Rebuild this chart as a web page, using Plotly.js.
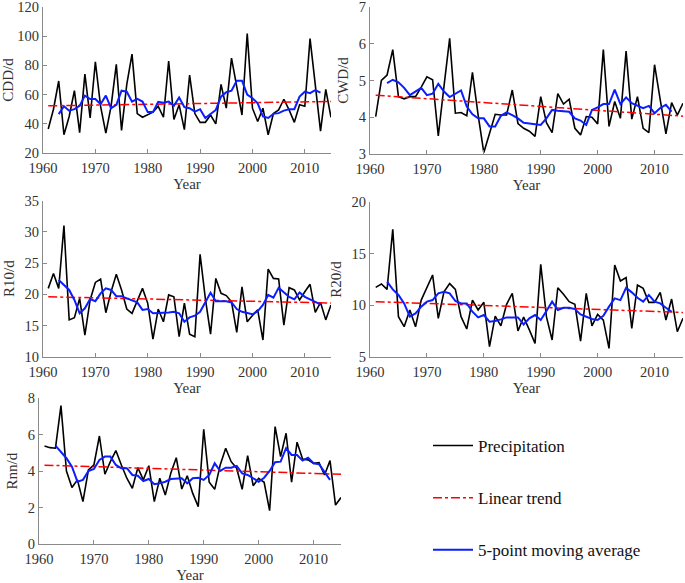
<!DOCTYPE html>
<html>
<head>
<meta charset="utf-8">
<script src="https://cdn.plot.ly/plotly-3.0.1.min.js"></script>
<style>html,body{margin:0;padding:0;background:#fff;}#chart{width:685px;height:583px;}</style>
</head>
<body>
<div id="chart"></div>
<script>
// Years of the annual series (1961-2015)
const years = [1961,1962,1963,1964,1965,1966,1967,1968,1969,1970,
  1971,1972,1973,1974,1975,1976,1977,1978,1979,1980,
  1981,1982,1983,1984,1985,1986,1987,1988,1989,1990,
  1991,1992,1993,1994,1995,1996,1997,1998,1999,2000,
  2001,2002,2003,2004,2005,2006,2007,2008,2009,2010,
  2011,2012,2013,2014,2015];
// Years of the centred 5-point moving average (1963-2013)
const maYears = [1963,1964,1965,1966,1967,1968,1969,1970,1971,1972,
  1973,1974,1975,1976,1977,1978,1979,1980,1981,1982,
  1983,1984,1985,1986,1987,1988,1989,1990,1991,1992,
  1993,1994,1995,1996,1997,1998,1999,2000,2001,2002,
  2003,2004,2005,2006,2007,2008,2009,2010,2011,2012,2013];
const trendYears = [1961, 2015];

// CDD/d
const cdd = [36.4,50,69.3,32.5,45,62.7,34,74,44,82.5,
  52,33.6,52,80.7,35.5,67,87.7,47,44.5,46,
  48,52,44.5,83,43,53,36,73.4,47,41,
  41,46,40,67,50.7,85,65.5,46,101.8,50.7,
  41.6,50.7,32.5,47,49.5,56.8,49.5,41,53,52,
  98.4,67.7,35,63.6,44.5];
const cddMA = [46.6,52,49,50,52.3,59.3,57,57,53.4,59.3,
  50.7,53,62.7,62,55.2,57,55.2,48,48,55,
  54.5,55.2,52.3,58,51.4,50.7,48.4,50,44,47,
  49.5,58.6,61.6,62.7,69.5,69.5,60,57.5,54,45,
  44,46.8,47.3,49,50,50,58.6,62,61,63,61.4];
const cddTrend = [52.3, 55.3];

// CWD/d
const cwd = [4.02,5.0,5.15,5.84,4.56,4.5,4.56,4.56,4.82,5.1,
  5.02,3.49,4.84,6.15,4.11,4.13,4.04,5.22,4.06,3.04,
  3.56,4.08,4.06,4.06,4.74,3.83,3.7,3.62,3.48,4.56,
  3.85,3.58,4.64,4.36,4.49,3.7,3.52,4.02,4.0,3.82,
  5.84,3.75,4.43,3.97,5.8,3.95,4.56,3.7,3.58,5.43,
  4.47,3.55,4.4,4.06,4.38];
const cwdMA = [4.93,5.02,4.95,4.8,4.6,4.7,4.8,4.6,4.64,4.91,
  4.7,4.55,4.64,4.73,4.29,4.08,3.97,3.97,3.75,3.75,
  4.04,4.13,4.06,3.97,3.85,3.83,3.81,3.79,3.97,4.2,
  4.18,4.17,4.15,3.97,3.91,3.79,4.2,4.27,4.36,4.36,
  4.75,4.36,4.54,4.38,4.31,4.25,4.31,4.11,4.25,4.34,4.15];
const cwdTrend = [4.6, 4.03];

// R10/d
const r10 = [20.95,23.35,20.95,31,15.9,16.25,19.35,13.47,19.1,21.9,
  22.45,17.05,20.4,23.2,20.7,17.64,16.95,19.1,20.95,18.55,
  12.8,17.64,15.6,19.9,19.6,13.2,18.6,13.6,13.2,26.4,
  19.35,13.6,22.55,20.15,19.8,18.8,13.9,21.2,15.6,16.6,
  17.5,12.67,24.05,22.55,22.45,15.07,21.05,20.7,19.1,20.4,
  21.6,17.1,18.7,15.9,18.3];
const r10MA = [22.3,21.5,20.7,19.1,16.95,17.75,19.25,18.9,20.15,20.95,
  20.7,19.7,19.7,19.35,18.97,18.7,17.5,17.64,16.95,16.95,
  17.05,17.1,17.2,16.95,15.6,16.3,16.57,17.2,18.8,20.25,
  18.9,18.9,18.9,18.7,17.64,17.2,16.95,16.8,17.3,18.3,
  19.9,19.45,21.05,20.3,19.6,19.2,20.3,19.6,19.2,18.7,18.4];
const r10Trend = [19.6, 18.6];

// R20/d
const r20 = [11.74,12.06,11.54,17.37,8.89,7.92,9.54,7.9,10.5,11.8,
  12.94,8.73,11.3,12.1,11.54,8.89,7.69,10.5,9.54,10.28,
  5.97,8.95,8.0,10.09,11.15,7.5,8.85,7.6,6.3,13.97,
  8.89,6.62,11.7,11.06,10.35,10.09,6.52,11.15,8.0,9.11,
  8.56,5.81,13.91,12.35,12.68,7.75,11.96,11.64,10.28,10.28,
  11.25,8.56,10.6,7.43,8.73];
const r20MA = [12.29,11.54,11.0,10.18,8.89,9.21,9.86,10.35,10.5,11.15,
  11.3,11.15,10.41,10.18,10.18,9.37,8.82,9.05,8.4,8.47,
  8.63,8.82,8.82,8.82,8.14,8.73,9.05,8.56,9.44,10.35,
  9.54,9.76,9.76,9.63,9.11,8.89,8.66,8.56,8.98,9.86,
  10.67,10.5,11.7,11.25,10.73,10.35,11.0,10.35,10.18,9.76,9.37];
const r20Trend = [10.35, 9.3];

// Rnn/d
const rnn = [5.38,5.29,5.26,7.6,4.01,3.1,3.52,2.33,4.07,4.34,
  5.93,3.83,4.52,5.13,4.34,3.61,3.06,4.19,3.52,4.3,
  2.33,3.61,2.69,3.88,4.74,3.02,3.75,2.78,2.05,6.3,
  3.39,3.0,4.34,5.26,4.52,4.16,3.0,4.85,3.2,3.61,
  3.39,1.83,6.45,4.8,6.08,3.39,5.59,4.67,4.62,4.43,
  4.47,3.79,4.58,2.14,2.55];
const rnnMA = [5.4,5.04,4.71,4.25,3.42,3.52,4.01,4.12,4.62,4.8,
  4.8,4.34,4.16,4.16,3.79,3.75,3.46,3.57,3.28,3.33,
  3.42,3.57,3.61,3.61,3.33,3.61,3.64,3.52,3.79,4.43,
  4.01,4.19,4.19,4.29,3.88,3.79,3.61,3.42,3.64,4.01,
  4.49,4.52,5.26,4.89,4.89,4.58,4.74,4.43,4.38,3.94,3.52];
const rnnTrend = [4.33, 3.83];

const seriesNames = ["Precipitation", "Linear trend", "5-point moving average"];
const yTitles = ["CDD/d", "CWD/d", "R10/d", "R20/d", "Rnn/d"];
const xTitle = "Year";

const panels = [
  {v: cdd, ma: cddMA, tr: cddTrend},
  {v: cwd, ma: cwdMA, tr: cwdTrend},
  {v: r10, ma: r10MA, tr: r10Trend},
  {v: r20, ma: r20MA, tr: r20Trend},
  {v: rnn, ma: rnnMA, tr: rnnTrend}
];

const FONT = "Liberation Serif, Times New Roman, serif";
const traces = [];
panels.forEach((p, i) => {
  const ax = i === 0 ? "" : String(i + 1);
  const leg = i === 4;
  traces.push({x: years, y: p.v, type: "scatter", mode: "lines", xaxis: "x" + ax, yaxis: "y" + ax,
    line: {color: "#000000", width: 1.6}, name: seriesNames[0], legendgroup: "a", showlegend: leg, hoverinfo: "skip"});
  traces.push({x: trendYears, y: p.tr, type: "scatter", mode: "lines", xaxis: "x" + ax, yaxis: "y" + ax,
    line: {color: "#ff0000", width: 1.5, dash: "dashdot"}, name: seriesNames[1], legendgroup: "b", showlegend: leg, hoverinfo: "skip"});
  traces.push({x: maYears, y: p.ma, type: "scatter", mode: "lines", xaxis: "x" + ax, yaxis: "y" + ax,
    line: {color: "#0a1eff", width: 2}, name: seriesNames[2], legendgroup: "c", showlegend: leg, hoverinfo: "skip"});
});

const W = 685, H = 583;
const boxes = [
  {x0: 43, x1: 331, yt: 7, yb: 153, r: [20, 120], d: 20},
  {x0: 370, x1: 683, yt: 7, yb: 154, r: [3, 7], d: 1},
  {x0: 43, x1: 331, yt: 200.7, yb: 356.7, r: [10, 35], d: 5},
  {x0: 370, x1: 683, yt: 202.3, yb: 356.7, r: [5, 20], d: 5},
  {x0: 39, x1: 341, yt: 398.3, yb: 544, r: [0, 8], d: 2}
];

const layout = {
  width: W, height: H,
  margin: {l: 0, r: 0, t: 0, b: 0},
  paper_bgcolor: "#ffffff", plot_bgcolor: "#ffffff",
  font: {family: FONT, size: 15, color: "#333333"},
  showlegend: true,
  legend: {x: 428 / W, y: 1 - 428 / H, xanchor: "left", yanchor: "top",
    traceorder: "grouped", tracegroupgap: 27, bgcolor: "rgba(0,0,0,0)",
    font: {family: FONT, size: 17, color: "#111111"}, itemwidth: 40}
};

boxes.forEach((b, i) => {
  const ax = i === 0 ? "" : String(i + 1);
  layout["xaxis" + ax] = {
    domain: [b.x0 / W, b.x1 / W], range: [1960, 2015], dtick: 10, tick0: 1960,
    anchor: "y" + ax, showline: true, linecolor: "#8a8a8a", linewidth: 1,
    ticks: "inside", ticklen: 4, tickcolor: "#8a8a8a", showgrid: false, zeroline: false,
    automargin: false, ticklabeloverflow: "allow", ticklabelstandoff: 2,
    tickfont: {family: FONT, size: 14.5, color: "#333333"},
    title: {text: xTitle, standoff: 3, font: {family: FONT, size: 15, color: "#333333"}}
  };
  layout["yaxis" + ax] = {
    domain: [1 - b.yb / H, 1 - b.yt / H], range: b.r, dtick: b.d, tick0: b.r[0],
    anchor: "x" + ax, showline: true, linecolor: "#8a8a8a", linewidth: 1,
    ticks: "inside", ticklen: 4, tickcolor: "#8a8a8a", showgrid: false, zeroline: false,
    automargin: false, ticklabeloverflow: "allow",
    tickfont: {family: FONT, size: 14.5, color: "#333333"},
    title: {text: yTitles[i], standoff: 6, font: {family: FONT, size: 15, color: "#333333"}}
  };
});

Plotly.newPlot("chart", traces, layout, {displayModeBar: false, staticPlot: true});
</script>
</body>
</html>
